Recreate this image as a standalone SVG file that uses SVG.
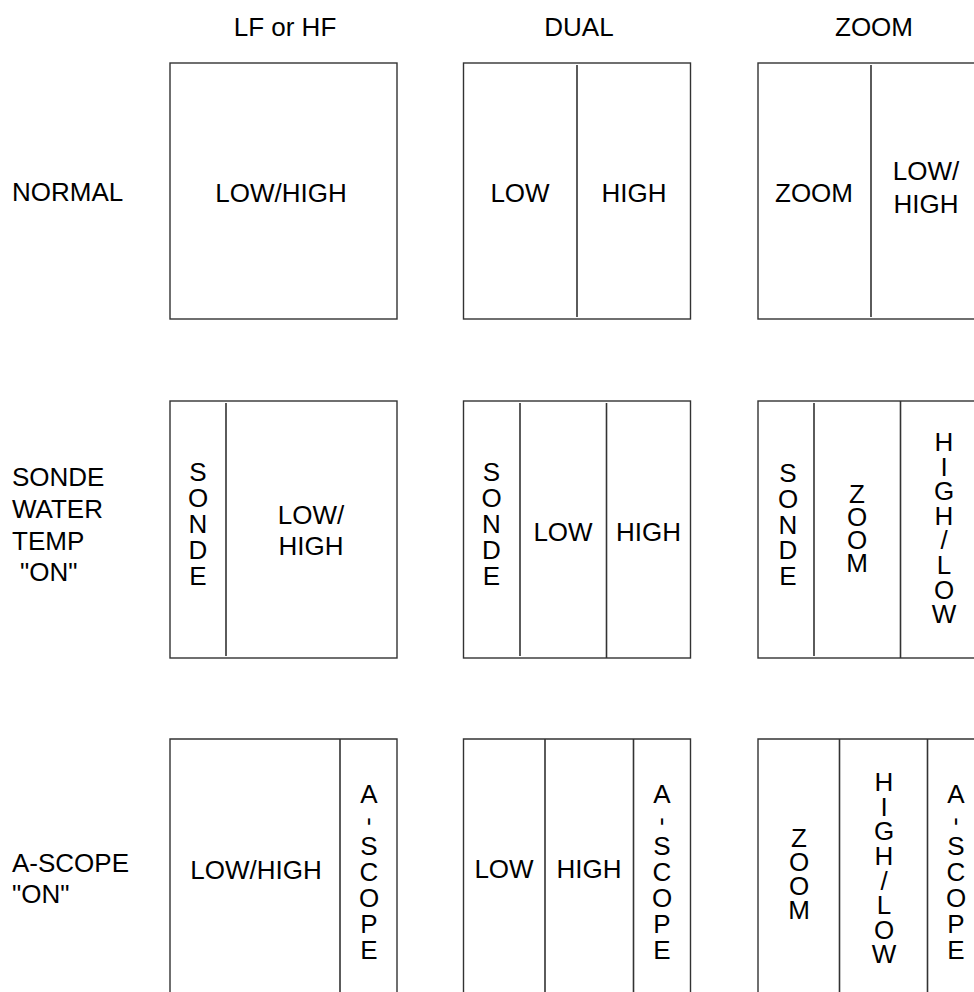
<svg xmlns="http://www.w3.org/2000/svg" width="974" height="992" viewBox="0 0 974 992">
<style>
text{font-family:"Liberation Sans",Arial,sans-serif;font-size:26px;fill:#000}
.c{text-anchor:middle}
.box{fill:none;stroke:#333;stroke-width:1.4}
.div{stroke:#333;stroke-width:1.6}
</style>
<rect width="974" height="992" fill="#fff"/>
<g id="headers">
<text class="c" x="285" y="36">LF or HF</text>
<text class="c" x="579" y="36">DUAL</text>
<text class="c" x="874" y="36">ZOOM</text>
</g>
<g id="row-labels">
<text x="12" y="201">NORMAL</text>
<text x="12" y="486">SONDE</text>
<text x="12" y="518">WATER</text>
<text x="12" y="550">TEMP</text>
<text x="20" y="581">"ON"</text>
<text x="12" y="872">A-SCOPE</text>
<text x="12" y="903">"ON"</text>
</g>
<g id="normal-lf">
<rect class="box" x="170" y="63" width="227" height="256"/>
<text class="c" x="281" y="202">LOW/HIGH</text>
</g>
<g id="normal-dual">
<rect class="box" x="463.5" y="63" width="227" height="256"/>
<line class="div" x1="577" y1="65" x2="577" y2="317"/>
<text class="c" x="520" y="202">LOW</text>
<text class="c" x="634" y="202">HIGH</text>
</g>
<g id="normal-zoom">
<rect class="box" x="758" y="63" width="228" height="256"/>
<line class="div" x1="871" y1="65" x2="871" y2="317"/>
<text class="c" x="814" y="202">ZOOM</text>
<text class="c" x="926" y="180">LOW/</text>
<text class="c" x="926" y="213">HIGH</text>
</g>
<g id="sonde-lf">
<rect class="box" x="170" y="401" width="227" height="257"/>
<line class="div" x1="226" y1="403" x2="226" y2="656"/>
<text class="c"><tspan x="198" y="481">S</tspan><tspan x="198" y="507">O</tspan><tspan x="198" y="533">N</tspan><tspan x="198" y="559">D</tspan><tspan x="198" y="585">E</tspan></text>
<text class="c" x="311" y="524">LOW/</text>
<text class="c" x="311" y="555">HIGH</text>
</g>
<g id="sonde-dual">
<rect class="box" x="463.5" y="401" width="227" height="257"/>
<line class="div" x1="520" y1="403" x2="520" y2="656"/>
<line class="div" x1="606.5" y1="403" x2="606.5" y2="658"/>
<text class="c"><tspan x="491.5" y="481">S</tspan><tspan x="491.5" y="507">O</tspan><tspan x="491.5" y="533">N</tspan><tspan x="491.5" y="559">D</tspan><tspan x="491.5" y="585">E</tspan></text>
<text class="c" x="563" y="541">LOW</text>
<text class="c" x="648.5" y="541">HIGH</text>
</g>
<g id="sonde-zoom">
<rect class="box" x="758" y="401" width="228" height="257"/>
<line class="div" x1="814" y1="403" x2="814" y2="656"/>
<line class="div" x1="900.5" y1="401" x2="900.5" y2="658"/>
<text class="c"><tspan x="788" y="482">S</tspan><tspan x="788" y="508">O</tspan><tspan x="788" y="534">N</tspan><tspan x="788" y="559">D</tspan><tspan x="788" y="585">E</tspan></text>
<text class="c"><tspan x="857" y="502.5">Z</tspan><tspan x="857" y="525.5">O</tspan><tspan x="857" y="548.5">O</tspan><tspan x="857" y="571.5">M</tspan></text>
<text class="c"><tspan x="944" y="451">H</tspan><tspan x="944" y="475.6">I</tspan><tspan x="944" y="500.2">G</tspan><tspan x="944" y="524.8">H</tspan><tspan x="944" y="549.4">/</tspan><tspan x="944" y="574">L</tspan><tspan x="944" y="598.6">O</tspan><tspan x="944" y="623.2">W</tspan></text>
</g>
<g id="ascope-lf">
<path class="box" d="M170,1000V739H397V1000"/>
<line class="div" x1="340" y1="739" x2="340" y2="1000"/>
<text class="c" x="256" y="879">LOW/HIGH</text>
<text class="c"><tspan x="369" y="802.7">A</tspan><tspan x="369" y="854.7">S</tspan><tspan x="369" y="880.7">C</tspan><tspan x="369" y="906.7">O</tspan><tspan x="369" y="932.7">P</tspan><tspan x="369" y="958.7">E</tspan></text>
<text class="c" x="369" y="828.7" transform="rotate(90 369 821.6)">-</text>
</g>
<g id="ascope-dual">
<path class="box" d="M463.5,1000V739H690.5V1000"/>
<line class="div" x1="545" y1="739" x2="545" y2="1000"/>
<line class="div" x1="633.5" y1="739" x2="633.5" y2="1000"/>
<text class="c" x="504" y="878">LOW</text>
<text class="c" x="589" y="878">HIGH</text>
<text class="c"><tspan x="662" y="802.7">A</tspan><tspan x="662" y="854.7">S</tspan><tspan x="662" y="880.7">C</tspan><tspan x="662" y="906.7">O</tspan><tspan x="662" y="932.7">P</tspan><tspan x="662" y="958.7">E</tspan></text>
<text class="c" x="662" y="828.7" transform="rotate(90 662 821.6)">-</text>
</g>
<g id="ascope-zoom">
<path class="box" d="M758,1000V739H986"/>
<line class="div" x1="839.5" y1="739" x2="839.5" y2="1000"/>
<line class="div" x1="927.5" y1="739" x2="927.5" y2="1000"/>
<text class="c"><tspan x="799" y="847.3">Z</tspan><tspan x="799" y="871.1">O</tspan><tspan x="799" y="894.9">O</tspan><tspan x="799" y="918.7">M</tspan></text>
<text class="c"><tspan x="884" y="791.2">H</tspan><tspan x="884" y="815.8">I</tspan><tspan x="884" y="840.4">G</tspan><tspan x="884" y="865">H</tspan><tspan x="884" y="889.6">/</tspan><tspan x="884" y="914.2">L</tspan><tspan x="884" y="938.8">O</tspan><tspan x="884" y="963.4">W</tspan></text>
<text class="c"><tspan x="956" y="802.7">A</tspan><tspan x="956" y="854.7">S</tspan><tspan x="956" y="880.7">C</tspan><tspan x="956" y="906.7">O</tspan><tspan x="956" y="932.7">P</tspan><tspan x="956" y="958.7">E</tspan></text>
<text class="c" x="956" y="828.7" transform="rotate(90 956 821.6)">-</text>
</g>
</svg>
